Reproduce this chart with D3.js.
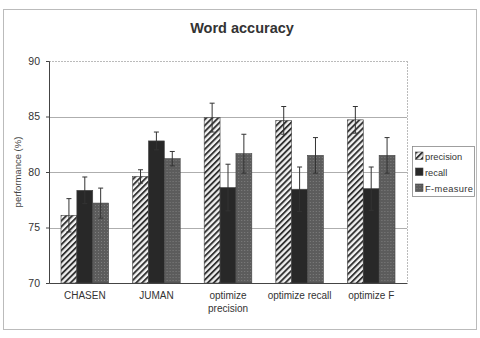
<!DOCTYPE html>
<html>
<head>
<meta charset="utf-8">
<script src="https://cdn.jsdelivr.net/npm/d3@7"></script>
<style>
  body { margin: 0; background: #fff; }
  svg { display: block; font-family: "Liberation Sans", Arial, sans-serif; }
</style>
</head>
<body>
<svg></svg>
<script>
let categories = ["CHASEN", "JUMAN", "optimize\nprecision", "optimize recall", "optimize F"];
let seriesNames = ["precision", "recall", "F-measure"];
let precision = [76.1, 79.6, 84.9, 84.65, 84.7];
let recall = [78.35, 82.8, 78.6, 78.45, 78.5];
let fmeasure = [77.2, 81.2, 81.65, 81.5, 81.5];
let precisionErr = [1.5, 0.6, 1.3, 1.25, 1.2];
let recallErr = [1.2, 0.8, 2.1, 2.0, 1.95];
let fmeasureErr = [1.35, 0.65, 1.75, 1.6, 1.6];
let yTicks = [70, 75, 80, 85, 90];

let width = 480;
let height = 338;
let margin = { left: 49, right: 73, top: 61, bottom: 55 };

let svg = d3.select("svg").attr("width", width).attr("height", height);

let defs = svg.append("defs");
let hatch = defs.append("pattern")
    .attr("id", "hatch")
    .attr("patternUnits", "userSpaceOnUse")
    .attr("width", 4.2)
    .attr("height", 4.2)
    .attr("patternTransform", "rotate(45)");
hatch.append("rect").attr("width", 4.2).attr("height", 4.2).attr("fill", "#f2f2f2");
hatch.append("rect").attr("x", 0).attr("width", 1.9).attr("height", 4.2).attr("fill", "#333");

let dots = defs.append("pattern")
    .attr("id", "dots")
    .attr("patternUnits", "userSpaceOnUse")
    .attr("width", 3)
    .attr("height", 3);
dots.append("rect").attr("width", 3).attr("height", 3).attr("fill", "#5c5c5c");
dots.append("rect").attr("x", 1).attr("y", 1).attr("width", 1).attr("height", 1).attr("fill", "#7e7e7e");

let fills = ["url(#hatch)", "#282828", "url(#dots)"];
let values = [precision, recall, fmeasure];
let errs = [precisionErr, recallErr, fmeasureErr];

// outer frame
svg.append("rect")
    .attr("x", 3.5).attr("y", 9.5)
    .attr("width", 473).attr("height", 320)
    .attr("fill", "none")
    .attr("stroke", "#bbb")
    .attr("stroke-width", 1);

let x0 = d3.scaleBand()
    .domain(categories)
    .range([margin.left, width - margin.right])
    .paddingInner(0.335)
    .paddingOuter(0.1675);

let x1 = d3.scaleBand()
    .domain(seriesNames)
    .range([0, x0.bandwidth()]);

let y = d3.scaleLinear()
    .domain([70, 90])
    .range([height - margin.bottom, margin.top]);

// grid
svg.append("g")
    .selectAll("line")
    .data(yTicks.slice(1))
    .enter()
    .append("line")
    .attr("x1", margin.left)
    .attr("x2", width - margin.right)
    .attr("y1", d => Math.round(y(d)) + 0.5)
    .attr("y2", d => Math.round(y(d)) + 0.5)
    .attr("stroke", d => d === 90 ? "#aaa" : "#999")
    .attr("stroke-dasharray", d => d === 90 ? "2,1" : null)
    .attr("stroke-width", 0.8);

svg.append("line")
    .attr("x1", width - margin.right + 0.5)
    .attr("x2", width - margin.right + 0.5)
    .attr("y1", margin.top)
    .attr("y2", height - margin.bottom)
    .attr("stroke", "#aaa")
    .attr("stroke-dasharray", "2,1")
    .attr("stroke-width", 0.8);

// bars
let groups = svg.append("g")
    .selectAll("g")
    .data(categories)
    .enter()
    .append("g")
    .attr("transform", d => `translate(${x0(d)},0)`);

seriesNames.forEach((s, si) => {
    groups.append("rect")
        .attr("x", x1(s))
        .attr("width", x1.bandwidth())
        .attr("y", (d, i) => y(values[si][i]))
        .attr("height", (d, i) => y(70) - y(values[si][i]))
        .attr("fill", fills[si])
        .attr("stroke", "#444")
        .attr("stroke-width", 0.6);
});

// error bars
seriesNames.forEach((s, si) => {
    let eb = groups.append("g").attr("stroke", "#333").attr("stroke-width", 1);
    eb.append("line")
        .attr("x1", x1(s) + x1.bandwidth() / 2)
        .attr("x2", x1(s) + x1.bandwidth() / 2)
        .attr("y1", (d, i) => y(values[si][i] - errs[si][i]))
        .attr("y2", (d, i) => y(values[si][i] + errs[si][i]));
    eb.append("line")
        .attr("x1", x1(s) + x1.bandwidth() / 2 - 2.5)
        .attr("x2", x1(s) + x1.bandwidth() / 2 + 2.5)
        .attr("y1", (d, i) => y(values[si][i] + errs[si][i]))
        .attr("y2", (d, i) => y(values[si][i] + errs[si][i]));
    eb.append("line")
        .attr("x1", x1(s) + x1.bandwidth() / 2 - 2.5)
        .attr("x2", x1(s) + x1.bandwidth() / 2 + 2.5)
        .attr("y1", (d, i) => y(values[si][i] - errs[si][i]))
        .attr("y2", (d, i) => y(values[si][i] - errs[si][i]));
});

// axes
let yAxis = d3.axisLeft(y).tickValues(yTicks).tickSize(3).tickPadding(6);
let gy = svg.append("g")
    .attr("transform", `translate(${margin.left},0)`)
    .call(yAxis);
gy.select(".domain").attr("stroke", "#444");
gy.selectAll(".tick line").attr("stroke", "#444");
gy.selectAll("text").attr("font-size", 10.5).attr("fill", "#333");

let xAxis = d3.axisBottom(x0).tickSize(0).tickPadding(9);
let gx = svg.append("g")
    .attr("transform", `translate(0,${height - margin.bottom})`)
    .call(xAxis);
gx.select(".domain").attr("stroke", "#444");
gx.selectAll("text")
    .attr("font-size", 10)
    .attr("fill", "#333")
    .each(function (d) {
        let t = d3.select(this);
        let lines = d.split("\n");
        t.text(null);
        lines.forEach((l, i) => {
            t.append("tspan")
                .attr("x", 0)
                .attr("dy", i === 0 ? "0.71em" : "1.3em")
                .text(l);
        });
    });

// y label
svg.append("text")
    .attr("transform", `translate(21,${y(80)}) rotate(-90)`)
    .attr("text-anchor", "middle")
    .attr("font-size", 9.5)
    .attr("fill", "#444")
    .text("performance (%)");

// title
svg.append("text")
    .attr("x", 242)
    .attr("y", 33)
    .attr("text-anchor", "middle")
    .attr("font-size", 14.5)
    .attr("font-weight", "bold")
    .attr("fill", "#333")
    .text("Word accuracy");

// legend
let legend = svg.append("g").attr("transform", "translate(412.5,146.5)");
legend.append("rect")
    .attr("width", 62)
    .attr("height", 50)
    .attr("fill", "#fff")
    .attr("stroke", "#888")
    .attr("stroke-width", 0.8);
let items = legend.selectAll("g")
    .data(seriesNames)
    .enter()
    .append("g")
    .attr("transform", (d, i) => `translate(3,${5.5 + i * 16})`);
items.append("rect")
    .attr("width", 7.5)
    .attr("height", 7.5)
    .attr("fill", (d, i) => fills[i])
    .attr("stroke", "#444")
    .attr("stroke-width", 0.6);
items.append("text")
    .attr("x", 9.5)
    .attr("y", 7.5)
    .attr("font-size", 9.3)
    .attr("fill", "#333")
    .attr("textLength", d => d === "F-measure" ? 48 : null)
    .text(d => d);
</script>
</body>
</html>
